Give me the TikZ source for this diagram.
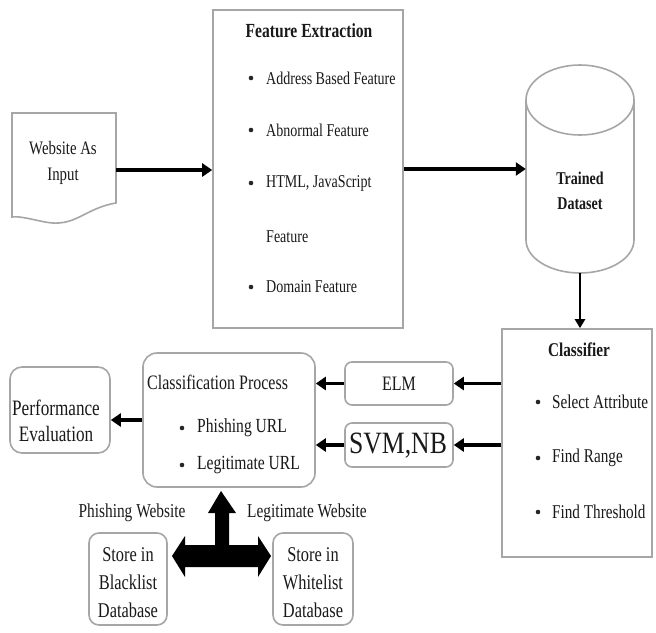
\documentclass[tikz,border=0pt]{standalone}
\usepackage{fontspec}
\setmainfont{Liberation Serif}
\usetikzlibrary{arrows.meta}
\newcommand\condtxt[1]{\scalebox{0.78}[1]{#1}}
\begin{document}
\begin{tikzpicture}[x=1pt,y=-1pt,
 box/.style={draw=gray!70, line width=1.6pt, fill=white, inner sep=0pt},
 rbox/.style={box, rounded corners=10pt},
 txt/.style={inner sep=0pt, text=black!90, font=\fontsize{18}{18}\selectfont},
 ltxt/.style={txt, anchor=west},
 ttl/.style={txt, font=\fontsize{20}{20}\selectfont\bfseries},
 bul/.style={circle, fill=black!85, inner sep=0pt, minimum size=4.6pt},
 arr/.style={line width=3.6pt, -{Triangle[length=10pt,width=13pt]}},
 arrs/.style={line width=2.6pt, -{Triangle[length=9pt,width=10pt]}},
 fs/.style={font=\fontsize{#1}{#1}\selectfont},
 fsb/.style={font=\fontsize{#1}{#1}\selectfont\bfseries},
]
\useasboundingbox (0,0) rectangle (656,632);
\fill[white] (0,0) rectangle (656,632);

% Website as input (document shape)
\draw[draw=gray!70, line width=1.6pt, fill=white]
  (12,113) -- (116,113) -- (116,203)
  .. controls (85,208) and (75,228) .. (45,222)
  .. controls (30,219) and (20,216) .. (12,217) -- cycle;
\coordinate (webR) at (116,170);
\node[txt, fs=19] (webt1) at (63,148) {\condtxt{Website As}};
\node[txt, fs=19] (webt2) at (63,176) {\condtxt{Input}};

% Feature extraction
\node[box, minimum width=190pt, minimum height=318pt] (fe) at (308,169) {};
\node[ttl] (fet) at (309,31) {\condtxt{Feature Extraction}};
\node[bul] (feb1) at (251,78) {};
\node[ltxt] (fe1) at (266,78) {\condtxt{Address Based Feature}};
\node[bul] (feb2) at (251,130) {};
\node[ltxt] (fe2) at (266,130) {\condtxt{Abnormal Feature}};
\node[bul] (feb3) at (251,183) {};
\node[ltxt] (fe3) at (266,183) {\condtxt{HTML, JavaScript}};
\node[ltxt] (fe4) at (266,237) {\condtxt{Feature}};
\node[bul] (feb5) at (251,287) {};
\node[ltxt] (fe5) at (266,287) {\condtxt{Domain Feature}};

% Cylinder
\node[inner sep=0pt, minimum width=108pt, minimum height=209pt] (ds) at (580,168.5) {};
\draw[draw=gray!70, line width=1.6pt, fill=white]
  (526,100) -- (526,240)
  .. controls (526,258.2) and (550.2,273) .. (580,273)
  .. controls (609.8,273) and (634,258.2) .. (634,240) -- (634,100);
\draw[draw=gray!70, line width=1.6pt, fill=white] (580,100) ellipse [x radius=54pt, y radius=35pt];
\node[txt, fsb=18] (dst1) at (580,178) {\condtxt{Trained}};
\node[txt, fsb=18] (dst2) at (580,204) {\condtxt{Dataset}};

% Classifier
\node[box, minimum width=150pt, minimum height=228pt] (cl) at (577,443) {};
\node[txt, fsb=19.5] (clt) at (579,350) {\condtxt{Classifier}};
\node[bul] (clb1) at (538,402) {};
\node[ltxt, fs=19.5] (cl1) at (552,402) {\condtxt{Select Attribute}};
\node[bul] (clb2) at (538,458) {};
\node[ltxt, fs=19.5] (cl2) at (552,458) {\condtxt{Find Range}};
\node[bul] (clb3) at (538,512) {};
\node[ltxt, fs=19.5] (cl3) at (552,512) {\condtxt{Find Threshold}};

% ELM / SVM,NB
\node[rbox, rounded corners=7pt, minimum width=108pt, minimum height=43pt] (elm) at (399,383.5) {};
\node[txt, fs=20.5] (elmt) at (399,384) {\condtxt{ELM}};
\node[rbox, rounded corners=7pt, minimum width=108pt, minimum height=44pt] (svm) at (399,445) {};
\node[txt] (svmt) at (398,446) {\scalebox{0.83}[1]{\fontsize{31}{31}\selectfont SVM,NB}};

% Classification process
\node[rbox, rounded corners=14pt, minimum width=172pt, minimum height=134pt] (cp) at (229,420) {};
\node[ltxt, fs=20.5] (cpt) at (147,382) {\condtxt{Classification Process}};
\node[bul] (cpb1) at (182,428) {};
\node[ltxt, fs=20] (cp1) at (197,428) {\condtxt{Phishing URL}};
\node[bul] (cpb2) at (182,465) {};
\node[ltxt, fs=20] (cp2) at (197,465) {\condtxt{Legitimate URL}};

% Performance evaluation
\node[rbox, rounded corners=12pt, minimum width=100pt, minimum height=86pt] (pe) at (60,410) {};
\node[txt, fs=22] (pet1) at (56,408) {\condtxt{Performance}};
\node[txt, fs=22] (pet2) at (56,434) {\condtxt{Evaluation}};

% Blacklist / Whitelist
\node[rbox, rounded corners=10pt, minimum width=78pt, minimum height=92pt] (bl) at (128,579) {};
\node[txt, fs=21] (blt1) at (128,555) {\condtxt{Store in}};
\node[txt, fs=21] (blt2) at (128,582) {\condtxt{Blacklist}};
\node[txt, fs=21] (blt3) at (128,610) {\condtxt{Database}};
\node[rbox, rounded corners=10pt, minimum width=80pt, minimum height=92pt] (wl) at (313,579) {};
\node[txt, fs=21] (wlt1) at (313,555) {\condtxt{Store in}};
\node[txt, fs=21] (wlt2) at (313,582) {\condtxt{Whitelist}};
\node[txt, fs=21] (wlt3) at (313,610) {\condtxt{Database}};
\node[txt, fs=19.7] (phw) at (132,513) {\condtxt{Phishing Website}};
\node[txt, fs=19.7] (lgw) at (307,513) {\condtxt{Legitimate Website}};

% Block arrow
\fill[black] (221,491) -- (236,513) -- (229,513) -- (229,545) -- (258,545) -- (258,536)
  -- (271,556) -- (258,577) -- (258,567) -- (185,567) -- (185,577) -- (172,556)
  -- (185,536) -- (185,545) -- (215,545) -- (215,513) -- (208,513) -- cycle;

% Connectors
\draw[arr] (webR) -- (webR -| fe.west);
\draw[arr] (fe.east) -- (fe.east -| ds.west);
\draw[arrs] (ds.south) -- (ds.south |- cl.north);
\draw[arr] (elm.east -| cl.west) -- (elm.east);
\draw[arr] (svm.east -| cl.west) -- (svm.east);
\draw[arr] (elm.west) -- (elm.west -| cp.east);
\draw[arr] (svm.west) -- (svm.west -| cp.east);
\draw[arr] (cp.west) -- (cp.west -| pe.east);
\end{tikzpicture}
\end{document}
